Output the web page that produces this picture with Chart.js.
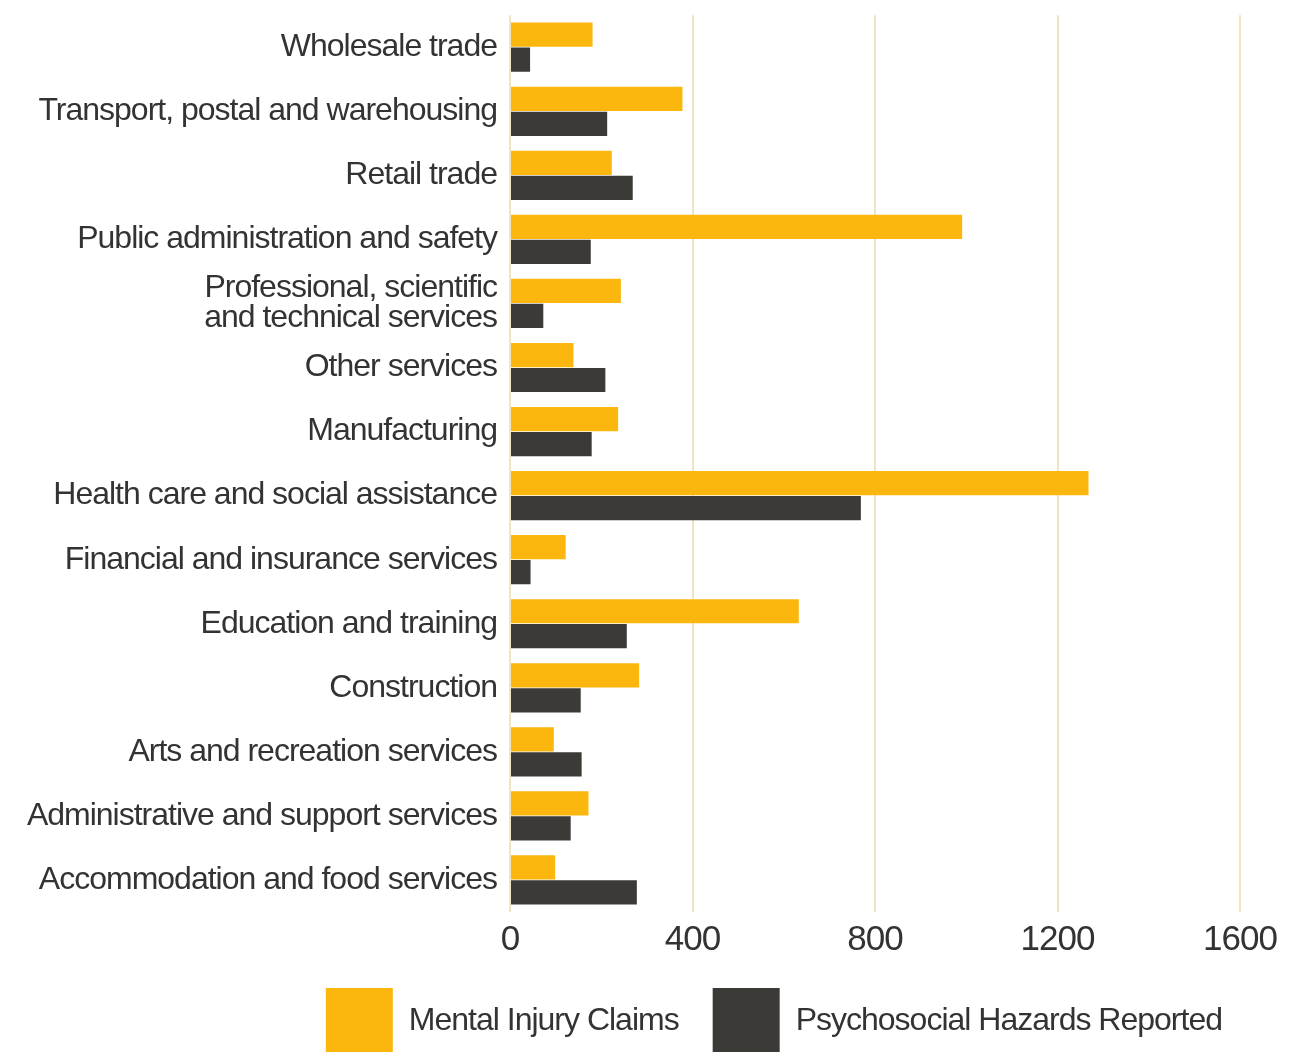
<!DOCTYPE html>
<html>
<head>
<meta charset="utf-8">
<script src="https://cdn.jsdelivr.net/npm/chart.js@4.4.1/dist/chart.umd.min.js"></script>
<style>
  html, body { margin: 0; padding: 0; background: #ffffff; }
  canvas { display: block; }
</style>
</head>
<body>
<canvas id="c" width="1294" height="1052"></canvas>
<script>
const categories = [
  'Wholesale trade',
  'Transport, postal and warehousing',
  'Retail trade',
  'Public administration and safety',
  ['Professional, scientific', 'and technical services'],
  'Other services',
  'Manufacturing',
  'Health care and social assistance',
  'Financial and insurance services',
  'Education and training',
  'Construction',
  'Arts and recreation services',
  'Administrative and support services',
  'Accommodation and food services'
];
const mentalInjuryClaims = [181, 378, 223, 991, 243, 139, 237, 1268, 122, 633, 283, 96, 172, 99];
const psychosocialHazards = [44, 213, 269, 177, 73, 209, 179, 769, 45, 256, 155, 157, 133, 278];
const seriesNames = ['Mental Injury Claims', 'Psychosocial Hazards Reported'];
const xTicks = [0, 400, 800, 1200, 1600];

const YELLOW = '#FCB70F';
const DARK = '#3B3A37';
const TEXT = '#333333';
const GRID = '#EFE5C4';
const FONT = "'Liberation Sans', Arial, sans-serif";

const LEG_PAD = 34;
const X_AXIS_H = 42;

const spacingPlugin = {
  id: 'tightText',
  beforeUpdate(chart) { chart.ctx.letterSpacing = '-1px'; },
  beforeDraw(chart) { chart.ctx.letterSpacing = '-1px'; }
};

new Chart(document.getElementById('c'), {
  type: 'bar',
  data: {
    labels: categories,
    datasets: [
      { label: seriesNames[0], data: mentalInjuryClaims, backgroundColor: YELLOW, borderWidth: 0,
        categoryPercentage: 0.78, barPercentage: 0.97 },
      { label: seriesNames[1], data: psychosocialHazards, backgroundColor: DARK, borderWidth: 0,
        categoryPercentage: 0.78, barPercentage: 0.97 }
    ]
  },
  options: {
    indexAxis: 'y',
    responsive: false,
    animation: false,
    devicePixelRatio: 1,
    layout: { padding: { top: 15, right: 38, bottom: 0, left: 10 } },
    scales: {
      x: {
        type: 'linear',
        position: 'bottom',
        min: 0,
        max: 1600,
        afterBuildTicks(scale) { scale.ticks = xTicks.map(v => ({ value: v })); },
        afterFit(scale) { scale.height = X_AXIS_H; },
        grid: { color: GRID, lineWidth: 2, drawTicks: false },
        border: { display: false },
        ticks: {
          color: TEXT, padding: 14,
          font: { family: FONT, size: 35, lineHeight: 0.8 },
          callback: v => String(v)
        }
      },
      y: {
        type: 'category',
        position: 'left',
        afterFit(scale) { scale.width = 500; },
        grid: { display: true, drawOnChartArea: false, drawTicks: true, tickLength: 13, color: 'rgba(0,0,0,0)' },
        border: { display: false },
        ticks: { color: TEXT, padding: 0, autoSkip: false, font: { family: FONT, size: 32, lineHeight: 0.95 } }
      },
      yRight: {
        type: 'linear',
        position: 'right',
        display: true,
        afterFit(scale) { scale.width = 16; },
        grid: { display: false, drawTicks: false },
        border: { display: false },
        ticks: { display: false }
      }
    },
    plugins: {
      legend: {
        display: true,
        position: 'bottom',
        align: 'end',
        maxHeight: 1052 - 912 - X_AXIS_H,
        labels: {
          boxWidth: 67,
          boxHeight: 66,
          padding: LEG_PAD,
          color: TEXT,
          font: { family: FONT, size: 32 }
        }
      },
      tooltip: { enabled: false }
    }
  },
  plugins: [spacingPlugin]
});
</script>
</body>
</html>
